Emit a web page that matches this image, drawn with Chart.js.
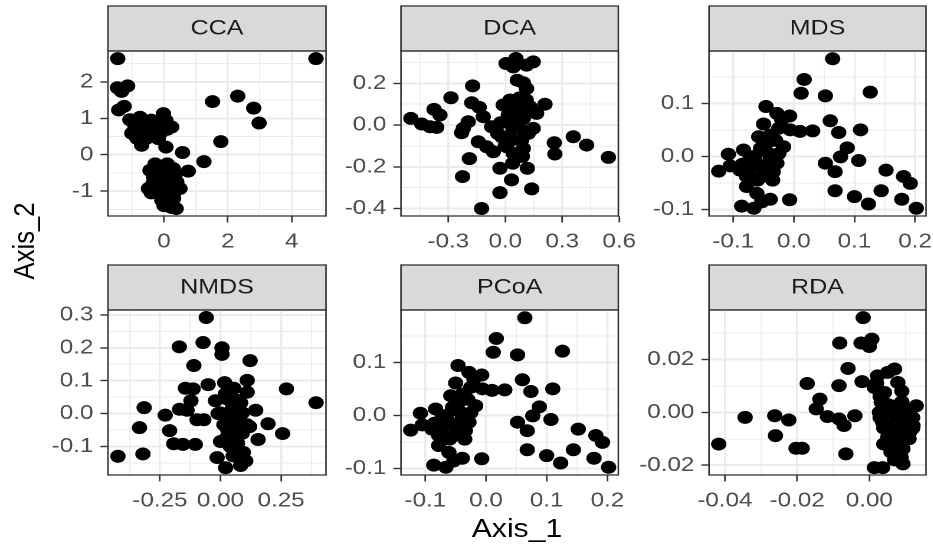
<!DOCTYPE html>
<html><head><meta charset="utf-8">
<script src="https://cdn.jsdelivr.net/npm/chart.js@4"></script>
<style>
html,body{margin:0;padding:0;background:#fff;overflow:hidden;width:933px;height:548px}
#stage{position:absolute;left:0;top:0;width:791px;height:548px;transform-origin:0 0;transform:scaleX(1.18)}
#stage canvas{position:absolute}
.title{position:absolute;font-family:"Liberation Sans",Arial,sans-serif;font-size:25.6px;line-height:1;color:#000;white-space:nowrap}
</style></head><body>
<div id="stage">
<div class="title" id="xt">Axis_1</div>
<div class="title" id="yt">Axis_2</div>
</div>
<script>
// ---------------- data ----------------
const panelNames = ['CCA', 'DCA', 'MDS', 'NMDS', 'PCoA', 'RDA'];
const axisTitleX = 'Axis_1';
const axisTitleY = 'Axis_2';

const ccaPoints = [[-1.45,2.64],[4.76,2.64],[-1.46,1.84],[-1.14,1.89],[-1.33,1.74],[-1.42,1.23],[-1.25,1.33],
 [-1.07,0.96],[-0.75,1.03],[-0.60,0.90],[-0.91,0.76],[-1.01,0.59],[-0.70,0.62],[-0.49,0.78],[-0.33,0.62],[-0.23,0.85],
 [-0.02,1.13],[0.06,0.94],[0.24,0.76],[-0.13,0.58],[-0.70,0.26],[-0.18,0.44],[0.06,0.21],[-0.85,0.45],[-0.55,0.45],
 [-0.40,0.95],[0.10,0.70],[0.58,0.06],[1.78,0.36],[1.52,1.46],[2.31,1.61],[2.81,1.28],[2.98,0.87],[1.25,-0.19],[0.76,-0.45],
 [-0.28,-0.25],[-0.44,-0.43],[-0.33,-0.61],[-0.13,-0.34],[0.08,-0.43],[0.29,-0.38],[-0.49,-0.93],[-0.18,-0.84],[0.03,-0.89],
 [0.40,-0.75],[0.50,-0.93],[-0.13,-1.07],[0.08,-1.16],[0.29,-1.07],[-0.07,-1.25],[0.19,-1.34],[0.38,-1.48],[0.24,-1.45],
 [-0.23,-0.70],[-0.02,-0.57],[0.19,-0.70],[0.10,-0.25],[-0.35,-0.80],[0.35,-0.55],[-0.05,-1.00],[0.15,-0.95],[0.30,-1.20],
 [-0.20,-0.50],[0.05,-0.70],[-0.40,-1.05],[-0.25,-0.95],[0.00,-0.40],[0.15,-0.55],[-0.10,-0.75],[0.22,-1.05],[0.12,-1.25],
 [-0.30,-0.40],[0.00,-1.40]];

const dcaPoints = [[-0.497,0.032],[-0.44,0.005],[-0.396,-0.008],[-0.361,-0.011],[-0.375,0.075],[-0.344,0.048],[-0.286,0.131],
 [-0.172,0.188],[-0.177,0.107],[-0.137,0.085],[-0.116,0.04],[-0.195,0.016],[-0.221,-0.016],[-0.23,-0.037],[-0.142,-0.08],
 [-0.098,-0.104],[-0.063,-0.128],[-0.189,-0.161],[-0.225,-0.247],[-0.125,-0.40],[-0.072,-0.008],[-0.025,0.011],[-0.011,0.096],
 [0.004,0.295],[0.056,0.319],[0.042,0.279],[0.112,0.287],[0.147,0.303],[0.063,0.215],[0.095,0.203],[0.112,0.175],[0.025,0.12],
 [0.051,0.072],[0.086,0.104],[0.13,0.088],[0.165,0.056],[0.209,0.1],[0.016,0.048],[0.06,0.024],[0.095,0.032],[0.147,-0.016],
 [0.121,-0.04],[0.086,-0.072],[0.033,-0.072],[-0.019,-0.056],[0.007,-0.104],[0.042,-0.136],[0.095,-0.112],[-0.028,-0.207],
 [0.039,-0.183],[0.033,-0.263],[-0.028,-0.324],[0.116,-0.207],[0.139,-0.306],[0.258,-0.085],[0.261,-0.139],[0.358,-0.056],
 [0.428,-0.096],[0.543,-0.155],[0.07,0.0],[0.10,-0.03],[0.04,-0.02],[0.12,0.06],[0.0,-0.1],[0.09,-0.15],[-0.04,-0.04],
 [0.02,0.02],[0.075,0.13],[0.11,0.12]];

const mdsPoints = [[0.064,0.184],[0.017,0.145],[0.012,0.119],[0.052,0.114],[0.126,0.121],[-0.046,0.094],[-0.05,0.061],
 [-0.028,0.081],[-0.007,0.076],[-0.02,0.069],[0.01,0.047],[0.031,0.048],[-0.006,0.05],[-0.025,0.053],[-0.058,0.037],
 [-0.039,0.04],[0.06,0.067],[0.074,0.045],[0.11,0.05],[0.088,0.016],[0.077,-0.001],[0.107,-0.008],[0.052,-0.013],
 [0.068,-0.029],[0.152,-0.026],[0.181,-0.038],[0.192,-0.051],[0.068,-0.065],[0.1,-0.076],[0.123,-0.09],[0.144,-0.065],
 [0.178,-0.081],[0.202,-0.098],[-0.108,0.004],[-0.124,-0.028],[-0.105,-0.018],[-0.083,0.012],[-0.089,-0.026],[-0.072,-0.001],
 [-0.061,-0.013],[-0.078,-0.038],[-0.053,-0.038],[-0.045,0.009],[-0.028,-0.013],[-0.034,-0.029],[-0.017,0.018],[-0.039,-0.001],
 [-0.078,-0.057],[-0.061,-0.07],[-0.039,-0.081],[-0.053,-0.086],[-0.086,-0.094],[-0.066,-0.098],[-0.007,-0.082],[-0.07,-0.02],
 [-0.065,0.0],[-0.05,-0.02],[-0.04,-0.01],[-0.075,-0.03],[-0.055,0.015],[-0.03,0.03],[-0.045,0.025],[-0.06,-0.045],
 [-0.025,0.005],[-0.085,-0.015],[-0.035,-0.045]];

const nmdsPoints = [[-0.423,-0.13],[-0.32,-0.123],[-0.334,-0.043],[-0.315,0.018],[-0.228,-0.005],[-0.21,-0.052],[-0.193,-0.092],
 [-0.155,-0.094],[-0.104,-0.094],[-0.169,0.013],[-0.138,0.01],[-0.145,0.077],[-0.113,0.075],[-0.122,0.039],[-0.097,-0.019],
 [-0.069,-0.019],[-0.11,0.146],[-0.17,0.203],[-0.072,0.216],[-0.059,0.292],[0.006,0.2],[0.006,0.18],[-0.051,0.088],[0.017,0.094],
 [0.055,0.077],[0.11,0.101],[0.122,0.161],[0.11,0.065],[-0.021,0.039],[0.028,0.044],[0.083,0.033],[0.145,0.01],[0.0,0.002],
 [0.041,-0.008],[0.09,0.002],[0.014,-0.034],[0.055,-0.045],[0.11,-0.034],[0.196,-0.031],[0.256,-0.061],[0.272,0.075],[0.394,0.033],
 [0.155,-0.079],[0.0,-0.085],[0.028,-0.071],[0.083,-0.061],[-0.014,-0.134],[0.021,-0.165],[0.052,-0.129],[0.094,-0.118],
 [0.083,-0.158],[0.104,-0.144],[0.03,-0.05],[0.06,-0.02],[0.07,0.04],[0.02,0.06],[0.09,-0.06],[0.04,-0.10],[0.07,-0.09],
 [0.12,-0.04],[-0.01,0.0],[0.05,0.02]];

const pcoaPoints = [[0.064,0.184],[0.017,0.145],[0.012,0.119],[0.052,0.114],[0.126,0.121],[-0.046,0.094],[-0.05,0.061],
 [-0.028,0.081],[-0.007,0.076],[-0.02,0.069],[0.01,0.047],[0.031,0.048],[-0.006,0.05],[-0.025,0.053],[-0.058,0.037],
 [-0.039,0.04],[0.06,0.067],[0.074,0.045],[0.11,0.05],[0.088,0.016],[0.077,-0.001],[0.107,-0.008],[0.052,-0.013],
 [0.068,-0.029],[0.152,-0.026],[0.181,-0.038],[0.192,-0.051],[0.068,-0.065],[0.1,-0.076],[0.123,-0.09],[0.144,-0.065],
 [0.178,-0.081],[0.202,-0.098],[-0.108,0.004],[-0.124,-0.028],[-0.105,-0.018],[-0.083,0.012],[-0.089,-0.026],[-0.072,-0.001],
 [-0.061,-0.013],[-0.078,-0.038],[-0.053,-0.038],[-0.045,0.009],[-0.028,-0.013],[-0.034,-0.029],[-0.017,0.018],[-0.039,-0.001],
 [-0.078,-0.057],[-0.061,-0.07],[-0.039,-0.081],[-0.053,-0.086],[-0.086,-0.094],[-0.066,-0.098],[-0.007,-0.082],[-0.07,-0.02],
 [-0.065,0.0],[-0.05,-0.02],[-0.04,-0.01],[-0.075,-0.03],[-0.055,0.015],[-0.03,0.03],[-0.045,0.025],[-0.06,-0.045],
 [-0.025,0.005],[-0.085,-0.015],[-0.035,-0.045]];

const rdaPoints = [[-0.0417,-0.012],[-0.0344,-0.0019],[-0.0262,-0.0013],[-0.0223,-0.0029],[-0.026,-0.0088],[-0.0203,-0.0136],
 [-0.0186,-0.0136],[-0.0172,0.0109],[-0.0137,0.005],[-0.0147,0.0013],[-0.0116,-0.0016],[-0.0084,-0.0025],[-0.007,-0.005],
 [-0.004,-0.0013],[-0.0084,0.0101],[-0.0059,0.0166],[-0.0082,0.0262],[-0.0017,0.0358],[-0.0023,0.0262],[0.0007,0.0277],
 [0.0,0.0249],[-0.002,0.0116],[-0.0065,-0.0157],[0.0014,-0.0209],[0.0037,-0.0209],[0.0023,0.0138],[0.0051,0.0151],[0.007,0.0164],
 [0.0079,0.0113],[0.0014,0.0094],[0.0042,0.0075],[0.0033,0.0038],[0.006,0.0025],[0.013,0.0025],[0.0028,0.0],[0.0051,-0.0013],
 [0.0079,0.0],[0.0098,-0.0013],[0.0121,-0.005],[0.0037,-0.0038],[0.006,-0.0063],[0.0088,-0.0063],[0.0112,-0.0075],
 [0.0051,-0.0094],[0.0079,-0.0113],[0.0093,-0.0138],[0.007,-0.0164],[0.0088,-0.017],[0.0093,-0.0195],[0.005,-0.004],
 [0.008,-0.008],[0.01,-0.003],[0.006,0.001],[0.011,-0.01],[0.004,-0.012],[0.009,0.004],[0.003,0.006],[0.007,-0.014],[0.012,-0.006],
 [0.004,-0.006],[0.006,-0.009],[0.008,-0.002],[0.010,-0.007],[0.012,-0.002],[0.005,0.003],[0.009,-0.011],[0.007,-0.018],
 [0.003,-0.002],[0.011,0.001],[0.006,-0.015],[0.009,0.008],[0.002,0.011],[0.005,-0.007]];

// tick values and labels
const ccaXTicks = [0, 2, 4];            const ccaXLabels = ['0', '2', '4'];
const ccaYTicks = [-1, 0, 1, 2];        const ccaYLabels = ['-1', '0', '1', '2'];
const dcaXTicks = [-0.3, 0, 0.3, 0.6];  const dcaXLabels = ['-0.3', '0.0', '0.3', '0.6'];
const dcaYTicks = [-0.4, -0.2, 0, 0.2]; const dcaYLabels = ['-0.4', '-0.2', '0.0', '0.2'];
const mdsXTicks = [-0.1, 0, 0.1, 0.2];  const mdsXLabels = ['-0.1', '0.0', '0.1', '0.2'];
const mdsYTicks = [-0.1, 0, 0.1];       const mdsYLabels = ['-0.1', '0.0', '0.1'];
const nmdsXTicks = [-0.25, 0, 0.25];    const nmdsXLabels = ['-0.25', '0.00', '0.25'];
const nmdsYTicks = [-0.1, 0, 0.1, 0.2, 0.3]; const nmdsYLabels = ['-0.1', '0.0', '0.1', '0.2', '0.3'];
const pcoaXTicks = [-0.1, 0, 0.1, 0.2]; const pcoaXLabels = ['-0.1', '0.0', '0.1', '0.2'];
const pcoaYTicks = [-0.1, 0, 0.1];      const pcoaYLabels = ['-0.1', '0.0', '0.1'];
const rdaXTicks = [-0.04, -0.02, 0];    const rdaXLabels = ['-0.04', '-0.02', '0.00'];
const rdaYTicks = [-0.02, 0, 0.02];     const rdaYLabels = ['-0.02', '0.00', '0.02'];

// ---------------- layout / config ----------------
const S = 1.18;                  // horizontal stretch of the figure
const colLeft = [108, 401, 709], colRight = [326, 618.3, 926];
const rowTop = [51, 310], rowBottom = [216, 475];
const STRIP = 45;
const FONT = '"Liberation Sans", Arial, sans-serif';
const STRIP_FONT = 21.2;

const specs = [
  {name: panelNames[0], pts: ccaPoints,  xt: ccaXTicks,  xl: ccaXLabels,  yt: ccaYTicks,  yl: ccaYLabels,  xlim: [-1.755, 5.075], ylim: [-1.684, 2.85],  col: 0, row: 0},
  {name: panelNames[1], pts: dcaPoints,  xt: dcaXTicks,  xl: dcaXLabels,  yt: dcaYTicks,  yl: dcaYLabels,  xlim: [-0.549, 0.595], ylim: [-0.436, 0.355], col: 1, row: 0},
  {name: panelNames[2], pts: mdsPoints,  xt: mdsXTicks,  xl: mdsXLabels,  yt: mdsYTicks,  yl: mdsYLabels,  xlim: [-0.140, 0.218], ylim: [-0.1126, 0.1987], col: 2, row: 0},
  {name: panelNames[3], pts: nmdsPoints, xt: nmdsXTicks, xl: nmdsXLabels, yt: nmdsYTicks, yl: nmdsYLabels, xlim: [-0.464, 0.435], ylim: [-0.187, 0.315], col: 0, row: 1},
  {name: panelNames[4], pts: pcoaPoints, xt: pcoaXTicks, xl: pcoaXLabels, yt: pcoaYTicks, yl: pcoaYLabels, xlim: [-0.140, 0.218], ylim: [-0.1126, 0.1987], col: 1, row: 1},
  {name: panelNames[5], pts: rdaPoints,  xt: rdaXTicks,  xl: rdaXLabels,  yt: rdaYTicks,  yl: rdaYLabels,  xlim: [-0.0444, 0.0157], ylim: [-0.0237, 0.0387], col: 2, row: 1}
];

function minorOf(majors, lo, hi) {
  const step = majors[1] - majors[0];
  const ext = [majors[0] - step].concat(majors, [majors[majors.length - 1] + step]);
  const out = [];
  for (let i = 0; i < ext.length - 1; i++) {
    const m = (ext[i] + ext[i + 1]) / 2;
    if (m > lo && m < hi) out.push(m);
  }
  return out;
}

function axisCfg(isX, majors, labels, lim, fitSize) {
  const minors = minorOf(majors, lim[0], lim[1]);
  const majW = isX ? 1.7 : 2, minW = isX ? 0.85 : 1;
  return {
    type: 'linear', position: isX ? 'bottom' : 'left',
    min: lim[0], max: lim[1], bounds: 'data',
    border: {display: false},
    grid: {
      color: '#EBEBEB',
      lineWidth: c => (c.tick && c.tick.minor) ? minW : majW,
      drawTicks: true, tickLength: 6.4, tickWidth: 1.4,
      tickColor: c => (c.tick && c.tick.minor) ? 'rgba(0,0,0,0)' : '#333333'
    },
    ticks: {
      autoSkip: false, maxRotation: 0, minRotation: 0, includeBounds: false,
      padding: isX ? 7 : 6, color: '#4D4D4D', font: {family: FONT, size: 20.5},
      callback: (v, i, ts) => ts[i].minor ? '' : labels[majors.indexOf(ts[i].value)]
    },
    afterBuildTicks: s => {
      s.ticks = majors.map(v => ({value: v}))
        .concat(minors.map(v => ({value: v, minor: true})))
        .sort((a, b) => a.value - b.value);
    },
    afterFit: s => {
      if (isX) s.height = fitSize; else s.width = fitSize;
      s.paddingLeft = 0; s.paddingRight = 0; s.paddingTop = 0; s.paddingBottom = 0;
    }
  };
}

const panelPlugin = {
  id: 'panelDeco',
  beforeDraw(chart) {
    const {ctx, chartArea: a} = chart;
    ctx.save();
    ctx.fillStyle = '#D9D9D9';
    ctx.fillRect(a.left, a.top - STRIP, a.right - a.left, STRIP);
    ctx.strokeStyle = '#333333'; ctx.lineWidth = 1.3;
    ctx.strokeRect(a.left, a.top - STRIP, a.right - a.left, STRIP);
    ctx.restore();
  },
  afterDraw(chart) {
    const {ctx, chartArea: a} = chart;
    ctx.save();
    ctx.strokeStyle = '#333333'; ctx.lineWidth = 1.3;
    ctx.strokeRect(a.left, a.top, a.right - a.left, a.bottom - a.top);
    ctx.restore();
  }
};

const stage = document.getElementById('stage');
const xt = document.getElementById('xt');
xt.textContent = axisTitleX;
xt.style.left = (517 / S) + 'px'; xt.style.top = '516px'; xt.style.transform = 'translateX(-50%)';
const yt = document.getElementById('yt');
yt.textContent = axisTitleY;
yt.style.left = '20.5px'; yt.style.top = '240.5px'; yt.style.transform = 'translate(-50%,-50%) rotate(-90deg)';

specs.forEach(sp => {
  const lx1 = colLeft[sp.col] / S, lx2 = colRight[sp.col] / S;
  const py1 = rowTop[sp.row], py2 = rowBottom[sp.row];
  const left = Math.floor(lx1 - 80);
  const L = lx1 - left, pw = lx2 - lx1;
  const W = Math.ceil(L + pw + 14);
  const R = W - L - pw;
  const top = py1 - STRIP - 2;
  const H = Math.ceil(py2 - top + 42);
  const B = H - (py2 - top);
  const cv = document.createElement('canvas');
  cv.width = W; cv.height = H;
  cv.style.left = left + 'px'; cv.style.top = top + 'px';
  cv.style.width = W + 'px'; cv.style.height = H + 'px';
  stage.appendChild(cv);
  const lh = 1.2;
  const padV = (STRIP - STRIP_FONT * lh) / 2;
  new Chart(cv, {
    type: 'scatter',
    data: {datasets: [{
      data: sp.pts.map(p => ({x: p[0], y: p[1]})),
      backgroundColor: '#000000', borderWidth: 0, pointRadius: 6.5, pointHoverRadius: 6.5
    }]},
    options: {
      responsive: false, animation: false, devicePixelRatio: 2,
      events: [],
      layout: {padding: {left: 0, top: 2, right: R, bottom: 0}},
      plugins: {
        legend: {display: false}, tooltip: {enabled: false},
        title: {display: true, text: sp.name, fullSize: false, color: '#1A1A1A',
                font: {family: FONT, size: STRIP_FONT, weight: 'normal', lineHeight: lh},
                padding: {top: padV, bottom: padV}}
      },
      scales: {
        x: axisCfg(true, sp.xt, sp.xl, sp.xlim, B),
        y: axisCfg(false, sp.yt, sp.yl, sp.ylim, L)
      }
    },
    plugins: [panelPlugin]
  });
});
</script>
</body></html>
